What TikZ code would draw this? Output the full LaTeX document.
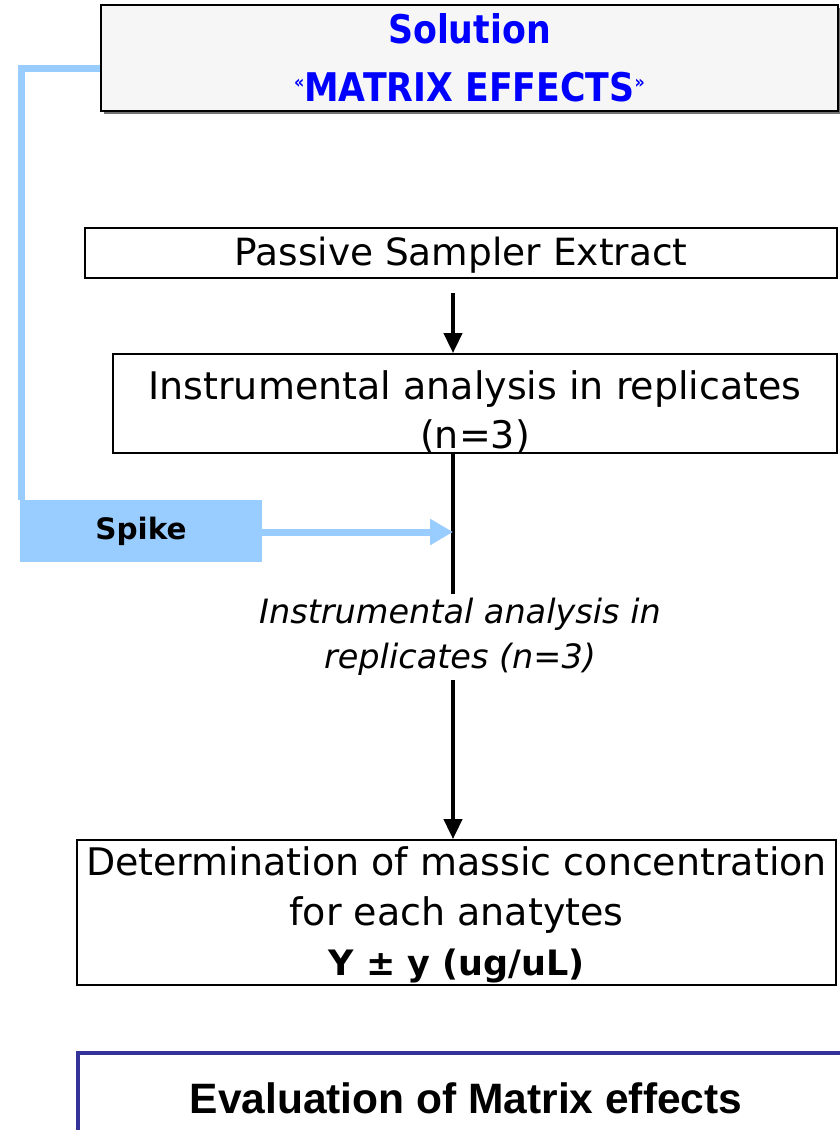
\documentclass[tikz,border=0pt]{standalone}
\usepackage{fontspec}
\setmainfont{DejaVu Sans}
\newfontfamily\condfont{DejaVu Sans}[FakeStretch=0.88]
\newfontfamily\arialfont{Liberation Sans}
\usetikzlibrary{arrows.meta,shadows}
\definecolor{lblue}{HTML}{99CCFF}
\definecolor{solfill}{HTML}{F6F6F6}
\definecolor{evalblue}{HTML}{333399}
\definecolor{solblue}{HTML}{0000FF}
\tikzset{
  box/.style={draw=black, line width=1.8pt, inner sep=0pt, align=center},
  mainline/.style={line width=4pt, black},
  mainarrow/.style={line width=4pt, black, -{Triangle[length=20pt,width=18pt]}},
  blueline/.style={line width=7pt, lblue},
  bluearrow/.style={line width=7pt, lblue, -{Triangle[length=23pt,width=25pt]}},
}
\begin{document}
\begin{tikzpicture}[x=1pt,y=-1pt]
\useasboundingbox (0,0) rectangle (840,1130);
\coordinate (ax) at (453,0);

\node[box, minimum width=737pt, minimum height=106pt, fill=solfill,
  drop shadow={shadow xshift=3pt, shadow yshift=-3pt, fill=black!55, opacity=1},
  text=solblue, font=\condfont\bfseries\fontsize{39.5}{58}\selectfont]
  (sol) at (469.5,58) {Solution\\{\fontsize{18}{18}\selectfont\raisebox{13pt}{«}}MATRIX EFFECTS{\fontsize{18}{18}\selectfont\raisebox{13pt}{»}}};

\node[box, minimum width=752pt, minimum height=50pt, font=\fontsize{37.5}{47}\selectfont]
  (passive) at (461,253) {\rule{0pt}{33pt}Passive Sampler Extract};

\node[box, minimum width=724pt, minimum height=99pt, font=\fontsize{38}{49}\selectfont]
  (instr) at (475,403.5) {\rule{0pt}{45pt}Instrumental analysis in replicates\\(n=3)};

\node[fill=lblue, minimum width=242pt, minimum height=62pt, inner sep=0pt,
  font=\bfseries\fontsize{29.5}{35}\selectfont]
  (spike) at (141,531) {Spike};

\node[inner sep=0pt, align=center, font=\itshape\fontsize{33.5}{45}\selectfont]
  (it) at (460,637) {Instrumental analysis in\\replicates (n=3)};

\node[box, minimum width=759pt, minimum height=145pt, font=\fontsize{38}{50}\selectfont]
  (det) at (456.5,912.5) {\rule{0pt}{33pt}Determination of massic concentration\\for each anatytes\\{\bfseries\fontsize{35}{50}\selectfont Y ± y (ug/uL)}};

\node[draw=evalblue, line width=4pt, minimum width=776pt, minimum height=90pt,
  font=\arialfont\bfseries\fontsize{42.5}{50}\selectfont]
  (eval) at (466,1098) {Evaluation of Matrix effects};

% connectors
\draw[mainarrow] ([yshift=-14pt]passive.south -| ax) -- (instr.north -| ax);
\coordinate (spikeend) at (453,532);
\draw[mainline] (instr.south -| ax) -- ([yshift=4pt]it.north -| ax);
\draw[mainarrow] ([yshift=-4pt]it.south -| ax) -- (det.north -| ax);
\draw[blueline] ([yshift=-10pt]sol.west) -| ([xshift=1.5pt]spike.north west);
\draw[bluearrow] (spike.east |- spikeend) -- (spikeend);
\end{tikzpicture}
\end{document}
